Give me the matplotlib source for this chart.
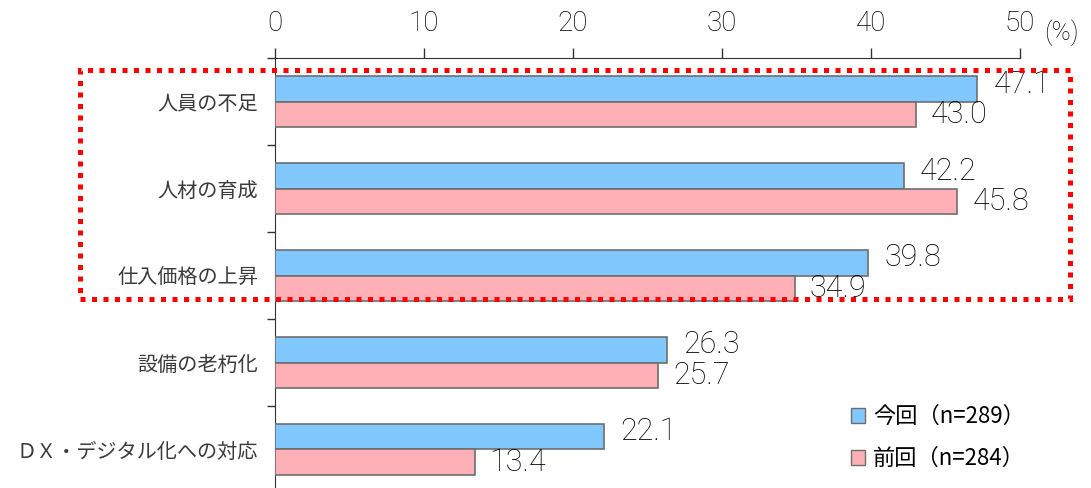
import matplotlib
matplotlib.use('Agg')

import matplotlib.pyplot as plt
import matplotlib.patches as mpatches
import numpy as np

JP = ['Noto Sans CJK JP', 'DejaVu Sans']
NUM = ['Roboto', 'DejaVu Sans']

COLOR_HOY = '#80c8ff'
COLOR_ANTES = '#ffb0b6'
COLOR_BORDE = '#6e6e6e'
COLOR_TEXTO = '#3a3a3a'
COLOR_NUM = '#000000'

categorias = ['人員の不足', '人材の育成', '仕入価格の上昇', '設備の老朽化', 'ＤＸ・デジタル化への対応']
valores_hoy = [47.1, 42.2, 39.8, 26.3, 22.1]
valores_antes = [43.0, 45.8, 34.9, 25.7, 13.4]
etiqueta_hoy = '今回（n=289）'
etiqueta_antes = '前回（n=284）'
ticks_x = [0, 10, 20, 30, 40, 50]


def main():
    fig = plt.figure(figsize=(10.91, 4.88), dpi=100)
    ax = fig.add_axes([0.252, -0.0102, 0.683, 0.891])

    y = np.arange(len(categorias))
    alto = 0.295
    ax.barh(y - alto / 2, valores_hoy, height=alto, color=COLOR_HOY,
            edgecolor=COLOR_BORDE, linewidth=1.2, zorder=3)
    ax.barh(y + alto / 2, valores_antes, height=alto, color=COLOR_ANTES,
            edgecolor=COLOR_BORDE, linewidth=1.2, zorder=3)

    for i, (a, b) in enumerate(zip(valores_hoy, valores_antes)):
        ax.text(a + 1.1, i - alto / 2 - 0.055, f'{a:.1f}', ha='left', va='center',
                fontsize=22, family=NUM, fontweight='light', color=COLOR_NUM)
        ax.text(b + 1.0, i + alto / 2, f'{b:.1f}', ha='left', va='center',
                fontsize=22, family=NUM, fontweight='light', color=COLOR_NUM)

    ax.set_xlim(0, 50)
    ax.set_ylim(len(categorias) - 0.5, -0.5)

    ax.xaxis.tick_top()
    ax.set_xticks(ticks_x)
    ax.set_xticklabels([str(t) for t in ticks_x], fontsize=20, family=NUM,
                       fontweight='light', color=COLOR_NUM)
    ax.tick_params(axis='x', direction='out', length=7, width=1, pad=8, color='#333333')

    ax.set_yticks(y)
    ax.set_yticklabels(categorias, fontsize=14.5, family=JP, color=COLOR_TEXTO)
    ax.set_yticks(np.arange(len(categorias) + 1) - 0.5, minor=True)
    ax.tick_params(axis='y', which='major', length=0, pad=12)
    ax.tick_params(axis='y', which='minor', direction='out', length=6, width=1, color='#333333')

    for lado in ('right', 'bottom'):
        ax.spines[lado].set_visible(False)
    ax.spines['top'].set_color('#333333')
    ax.spines['left'].set_color('#333333')

    fig.text(1044 / 1091, 1 - 33 / 488, '(%)', ha='left', va='center',
             fontsize=18.5, family=NUM, fontweight='light', color=COLOR_NUM)

    # recuadro punteado sobre los tres primeros rubros
    fig.patches.append(mpatches.Rectangle(
        (80 / 1091, 1 - 299 / 488), (1070 - 80) / 1091, (299 - 70) / 488,
        transform=fig.transFigure, fill=False, edgecolor='#ff0000',
        linewidth=3.6, linestyle=(0, (1, 1.3)), capstyle='butt', zorder=10,
    ))

    handles = [
        mpatches.Patch(facecolor=COLOR_HOY, edgecolor=COLOR_BORDE, label=etiqueta_hoy),
        mpatches.Patch(facecolor=COLOR_ANTES, edgecolor=COLOR_BORDE, label=etiqueta_antes),
    ]
    fig.legend(handles=handles, loc='upper left', bbox_to_anchor=(831 / 1091, 1 - 385 / 488),
               frameon=False, prop={'family': JP, 'size': 16}, handlelength=0.65,
               handleheight=0.65, handletextpad=0.35, labelspacing=0.85)

    fig.savefig('out.png', dpi=100)


if __name__ == '__main__':
    main()
